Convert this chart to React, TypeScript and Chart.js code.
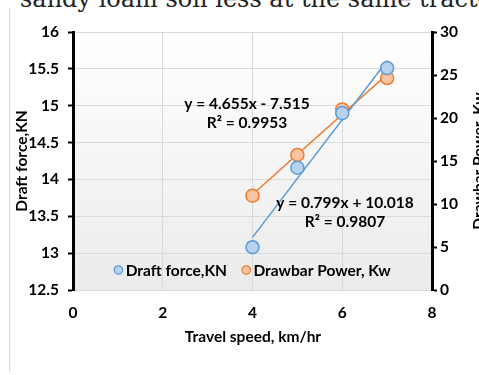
import React, { useEffect, useRef } from "react";
import { Chart, registerables } from "chart.js";

Chart.register(...registerables);

// ---- data ----
const speeds = [4, 5, 6, 7];
const draftForce = [13.08, 14.16, 14.9, 15.51];
const drawbarPower = [10.97, 15.7, 21.0, 24.65];
const xTicks = [0, 2, 4, 6, 8];
const leftTicks = [12.5, 13, 13.5, 14, 14.5, 15, 15.5, 16];
const rightTicks = [0, 5, 10, 15, 20, 25, 30];
const draftFit = { slope: 0.799, intercept: 10.018, r2: "0.9807", text: "y = 0.799x + 10.018" };
const powerFit = { slope: 4.655, intercept: -7.515, r2: "0.9953", text: "y = 4.655x - 7.515" };
const seriesNames = ["Draft force,KN", "Drawbar Power, Kw"];
const xTitle = "Travel speed, km/hr";
const leftTitle = "Draft force,KN";
const rightTitle = "Drawbar Power, Kw";
const captionText = "sandy loam soil less at the same tractor";

const FONT = "Lato, 'Open Sans', sans-serif";
const FS = 15.5;
const BLUE = "#5b9bd5";
const BLUE_FILL = "#b7d2ee";
const ORANGE = "#ed7d31";
const ORANGE_FILL = "#f8c4a2";

export default function App() {
  const ref = useRef<HTMLCanvasElement | null>(null);

  useEffect(() => {
    const canvas = ref.current;
    if (!canvas) return;

    const bgPlugin = {
      id: "bg",
      beforeDraw(chart: any) {
        const { ctx, chartArea: a } = chart;
        const g = ctx.createLinearGradient(0, a.top, 0, a.bottom);
        g.addColorStop(0, "#ffffff");
        g.addColorStop(1, "#ebebeb");
        ctx.save();
        ctx.fillStyle = g;
        ctx.fillRect(a.left, a.top, a.right - a.left, a.bottom - a.top);
        ctx.restore();
      },
    };

    const textPlugin = {
      id: "texts",
      afterDraw(chart: any) {
        const { ctx, chartArea: a } = chart;
        const cy = (a.top + a.bottom) / 2;
        const cx = (a.left + a.right) / 2;
        ctx.save();
        ctx.fillStyle = "#000";
        ctx.font = `bold ${FS}px ${FONT}`;
        ctx.textAlign = "center";
        ctx.textBaseline = "middle";
        // axis titles
        ctx.fillText(xTitle, 253, 337);
        ctx.save();
        ctx.translate(22, cy);
        ctx.rotate(-Math.PI / 2);
        ctx.fillText(leftTitle, 0, 0);
        ctx.restore();
        ctx.save();
        ctx.translate(479, cy);
        ctx.rotate(-Math.PI / 2);
        ctx.fillText(rightTitle, 0, 0);
        ctx.restore();
        // trendline equations
        ctx.fillText(powerFit.text, 247, 104);
        ctx.fillText("R\u00B2 = " + powerFit.r2, 247, 123);
        ctx.fillText(draftFit.text, 345, 203);
        ctx.fillText("R\u00B2 = " + draftFit.r2, 345, 222);
        // legend
        const ly = 270;
        const r = 4.2;
        const gapM = 3;
        const gapItems = 15;
        const w0 = ctx.measureText(seriesNames[0]).width;
        const w1 = ctx.measureText(seriesNames[1]).width;
        const total = 2 * r + gapM + w0 + gapItems + 2 * r + gapM + w1;
        let x = cx - total / 2;
        const items = [
          { name: seriesNames[0], w: w0, stroke: BLUE, fill: BLUE_FILL },
          { name: seriesNames[1], w: w1, stroke: ORANGE, fill: ORANGE_FILL },
        ];
        ctx.textAlign = "left";
        for (const it of items) {
          ctx.beginPath();
          ctx.arc(x + r, ly, r, 0, Math.PI * 2);
          ctx.fillStyle = it.fill;
          ctx.fill();
          ctx.lineWidth = 1.3;
          ctx.strokeStyle = it.stroke;
          ctx.stroke();
          ctx.fillStyle = "#000";
          ctx.fillText(it.name, x + 2 * r + gapM, ly + 1);
          x += 2 * r + gapM + it.w + gapItems;
        }
        ctx.restore();
      },
    };

    const pts = (ys: number[]) => speeds.map((s, i) => ({ x: s, y: ys[i] }));
    const fitLine = (f: { slope: number; intercept: number }) => [
      { x: speeds[0], y: f.slope * speeds[0] + f.intercept },
      { x: speeds[speeds.length - 1], y: f.slope * speeds[speeds.length - 1] + f.intercept },
    ];
    const tickFont = { family: FONT, size: FS, weight: "bold" };
    const plain = (v: any) => String(v);

    const chart = new Chart(canvas, {
      type: "scatter",
      data: {
        datasets: [
          {
            label: seriesNames[0],
            data: pts(draftForce),
            yAxisID: "y",
            pointRadius: 6.5,
            pointBorderWidth: 1.5,
            backgroundColor: BLUE_FILL,
            borderColor: BLUE,
          },
          {
            label: seriesNames[1],
            data: pts(drawbarPower),
            yAxisID: "y1",
            pointRadius: 6.5,
            pointBorderWidth: 1.5,
            backgroundColor: ORANGE_FILL,
            borderColor: ORANGE,
          },
          {
            label: "draft fit",
            data: fitLine(draftFit),
            yAxisID: "y",
            showLine: true,
            pointRadius: 0,
            borderWidth: 1.5,
            borderColor: BLUE,
          },
          {
            label: "power fit",
            data: fitLine(powerFit),
            yAxisID: "y1",
            showLine: true,
            pointRadius: 0,
            borderWidth: 1.5,
            borderColor: ORANGE,
          },
        ],
      },
      options: {
        animation: false,
        responsive: false,
        devicePixelRatio: 1,
        layout: { padding: { top: 32, left: 0, right: 0, bottom: 0 } },
        plugins: { legend: { display: false }, tooltip: { enabled: false } },
        scales: {
          x: {
            type: "linear",
            position: "bottom",
            min: xTicks[0],
            max: xTicks[xTicks.length - 1],
            afterBuildTicks: (s: any) => {
              s.ticks = xTicks.map((v) => ({ value: v }));
            },
            ticks: { font: tickFont, color: "#000", padding: 14, callback: plain },
            grid: { color: "#d9d9d9", drawTicks: false },
            border: { color: "#d9d9d9", width: 1 },
            afterFit: (s: any) => {
              s.height = 85;
            },
          },
          y: {
            type: "linear",
            position: "left",
            min: leftTicks[0],
            max: leftTicks[leftTicks.length - 1],
            afterBuildTicks: (s: any) => {
              s.ticks = leftTicks.map((v) => ({ value: v }));
            },
            ticks: { font: tickFont, color: "#000", padding: 9, callback: plain },
            grid: { color: "#d9d9d9", tickColor: "#000", tickLength: 5, tickWidth: 2 },
            border: { color: "#000", width: 3 },
            afterFit: (s: any) => {
              s.width = 73;
            },
          },
          y1: {
            type: "linear",
            position: "right",
            min: rightTicks[0],
            max: rightTicks[rightTicks.length - 1],
            afterBuildTicks: (s: any) => {
              s.ticks = rightTicks.map((v) => ({ value: v }));
            },
            ticks: { font: tickFont, color: "#000", padding: 3, callback: plain },
            grid: { drawOnChartArea: false, tickColor: "#000", tickLength: 5, tickWidth: 2 },
            border: { color: "#000", width: 3 },
            afterFit: (s: any) => {
              s.width = 47;
            },
          },
        },
      } as any,
      plugins: [bgPlugin, textPlugin],
    });

    return () => chart.destroy();
  }, []);

  return (
    <div style={{ position: "absolute", left: 0, top: 0, width: 479, height: 375, overflow: "hidden", background: "#fff" }}>
      <div
        style={{
          position: "absolute",
          left: 20,
          top: -13,
          whiteSpace: "nowrap",
          fontFamily: "'DejaVu Serif', serif",
          fontSize: 24,
          lineHeight: "24px",
          color: "#222",
        }}
      >
        {captionText}
      </div>
      <div style={{ position: "absolute", left: 9, top: 8, width: 1, height: 364, background: "#d6d6d6" }} />
      <canvas ref={ref} width={479} height={375} style={{ position: "absolute", left: 0, top: 0 }} />
    </div>
  );
}
